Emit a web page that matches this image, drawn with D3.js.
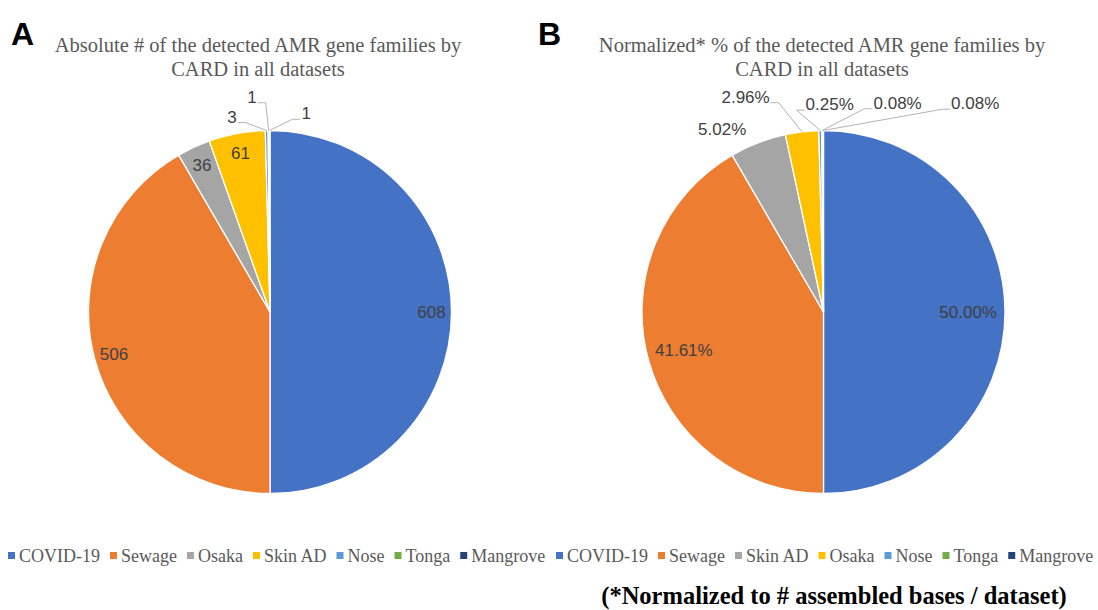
<!DOCTYPE html>
<html>
<head>
<meta charset="utf-8">
<script src="https://cdn.jsdelivr.net/npm/d3@7"></script>
<style>
  html, body { margin: 0; padding: 0; background: #fff; }
  svg { display: block; }
</style>
</head>
<body>
<svg id="chart" width="1098" height="610"></svg>
<script>
// ---- data ----
const categoriesA = ["COVID-19", "Sewage", "Osaka", "Skin AD", "Nose", "Tonga", "Mangrove"];
const valuesA = [608, 506, 36, 61, 3, 1, 1];
const labelsA = ["608", "506", "36", "61", "3", "1", "1"];

const categoriesB = ["COVID-19", "Sewage", "Skin AD", "Osaka", "Nose", "Tonga", "Mangrove"];
const valuesB = [50.00, 41.61, 5.02, 2.96, 0.25, 0.08, 0.08];
const labelsB = ["50.00%", "41.61%", "5.02%", "2.96%", "0.25%", "0.08%", "0.08%"];

const colors = ["#4472C4", "#ED7D31", "#A5A5A5", "#FFC000", "#5B9BD5", "#70AD47", "#264478"];

const titleA = ["Absolute # of the detected AMR gene families by", "CARD in all datasets"];
const titleB = ["Normalized* % of the detected AMR gene families by", "CARD in all datasets"];
const footnote = "(*Normalized to # assembled bases / dataset)";

// ---- layout ----
// Outside labels: [slice index, angle (deg, clockwise from top), radius px, leader?]
const outsideA = [[4, -11.0, 199, true], [5, -4.8, 216, true], [6, 10.3, 202, true]];
const outsideB = [[2, -29.0, 209, false], [3, -19.9, 229, true], [4, 1.7, 208, true], [5, 19.5, 222, true], [6, 36.0, 258, true]];

const svg = d3.select("#chart");
const R = 181.5;

function drawPanel(opt) {
  const g = svg.append("g").attr("transform", `translate(${opt.cx},${opt.cy})`);
  const pie = d3.pie().sort(null).value(d => d)(opt.values);
  const arc = d3.arc().innerRadius(0).outerRadius(R);

  g.selectAll("path.slice").data(pie).join("path")
    .attr("class", "slice")
    .attr("d", arc)
    .attr("fill", (d, i) => colors[i])
    .attr("stroke", "#fff")
    .attr("stroke-width", 1.3);

  const outsideIdx = new Set(opt.outside.map(o => o[0]));

  // labels inside the large slices
  g.selectAll("text.inlab").data(pie.filter((d, i) => !outsideIdx.has(i))).join("text")
    .attr("class", "inlab")
    .attr("transform", d => {
      const a = (d.startAngle + d.endAngle) / 2;
      return `translate(${Math.sin(a) * R * opt.k},${-Math.cos(a) * R * opt.k})`;
    })
    .attr("text-anchor", "middle")
    .attr("dy", "0.35em")
    .attr("font-family", "Liberation Sans, Arial, sans-serif")
    .attr("font-size", 17)
    .attr("fill", "#404040")
    .text(d => opt.labels[d.index]);

  // labels outside the tiny slices, with leader lines
  opt.outside.forEach(([i, ang, rad, leader]) => {
    const d = pie[i];
    const a = ang * Math.PI / 180;
    const lx = Math.sin(a) * rad, ly = -Math.cos(a) * rad;
    const t = g.append("text")
      .attr("x", lx).attr("y", ly)
      .attr("text-anchor", "middle")
      .attr("dy", "0.35em")
      .attr("font-family", "Liberation Sans, Arial, sans-serif")
      .attr("font-size", 17)
      .attr("fill", "#404040")
      .text(opt.labels[i]);
    if (!leader) return;
    const w = t.node().getComputedTextLength();
    const ca = (d.startAngle + d.endAngle) / 2;
    const px = Math.sin(ca) * R, py = -Math.cos(ca) * R;
    const side = lx < px ? 1 : -1;
    const ax = lx + side * (w / 2 + 1), ay = ly + 6;
    const ex = ax + side * 8;
    g.insert("path", "text")
      .attr("d", d3.line()([[ax, ay], [ex, ay], [px, py]]))
      .attr("fill", "none")
      .attr("stroke", "#b3b3b3")
      .attr("stroke-width", 1);
  });

  // title
  const tt = svg.append("text")
    .attr("x", opt.tx)
    .attr("text-anchor", "middle")
    .attr("font-family", "Liberation Serif, Times New Roman, serif")
    .attr("font-size", 20.5)
    .attr("fill", "#595959");
  opt.title.forEach((line, j) => {
    tt.append("tspan").attr("x", opt.tx).attr("y", 52 + j * 24).text(line);
  });

  // panel letter
  svg.append("text")
    .attr("x", opt.lx).attr("y", 45)
    .attr("font-family", "Liberation Sans, Arial, sans-serif")
    .attr("font-weight", "bold")
    .attr("font-size", 32)
    .attr("fill", "#000")
    .text(opt.letter);

  // legend
  const leg = svg.append("g").attr("transform", `translate(${opt.legX},556)`);
  let x = 0;
  opt.categories.forEach((c, i) => {
    leg.append("rect").attr("x", x).attr("y", -4).attr("width", 7).attr("height", 7).attr("fill", colors[i]);
    x += 11;
    const tx = leg.append("text").attr("x", x).attr("y", 0).attr("dy", "0.33em")
      .attr("font-family", "Liberation Serif, Times New Roman, serif")
      .attr("font-size", 18)
      .attr("fill", "#595959")
      .text(c);
    x += tx.node().getComputedTextLength() + 10;
  });
}

drawPanel({
  cx: 270, cy: 312, k: 0.89, values: valuesA, labels: labelsA, categories: categoriesA,
  outside: outsideA, title: titleA, tx: 258, letter: "A", lx: 11, legX: 8
});
drawPanel({
  cx: 823.5, cy: 312, k: 0.797, values: valuesB, labels: labelsB, categories: categoriesB,
  outside: outsideB, title: titleB, tx: 822, letter: "B", lx: 538, legX: 556
});

svg.append("text")
  .attr("x", 834).attr("y", 604)
  .attr("text-anchor", "middle")
  .attr("font-family", "Liberation Serif, Times New Roman, serif")
  .attr("font-weight", "bold")
  .attr("font-size", 24.5)
  .attr("fill", "#000")
  .text(footnote);
</script>
</body>
</html>
